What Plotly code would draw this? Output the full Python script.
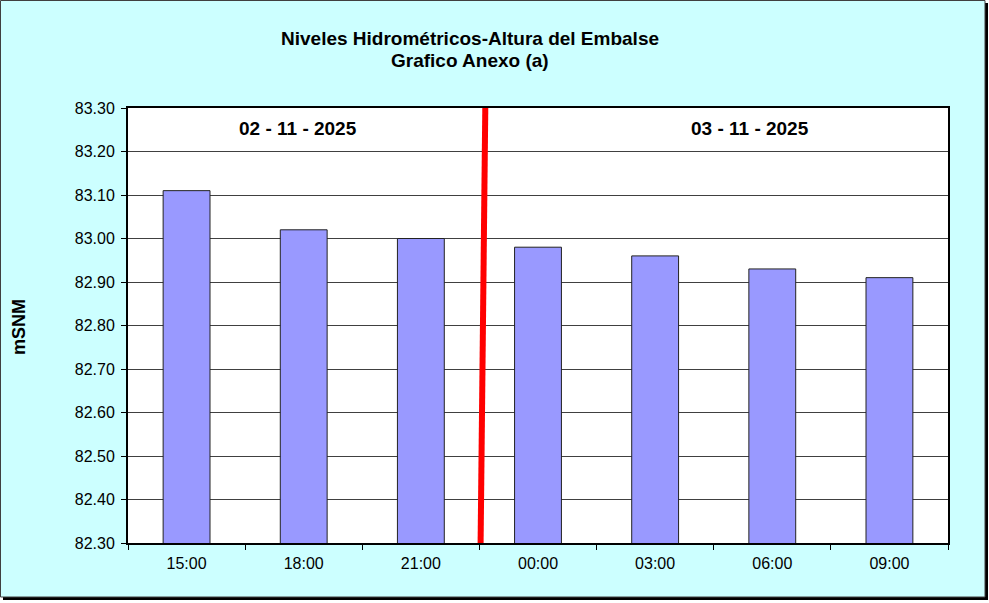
import plotly.graph_objects as go

# data
hours = ["15:00", "18:00", "21:00", "00:00", "03:00", "06:00", "09:00"]
levels = [83.11, 83.02, 83.00, 82.98, 82.96, 82.93, 82.91]
day_labels = ["02 - 11 - 2025", "03 - 11 - 2025"]
day_positions = [0.95, 4.81]
y_ticks = [82.3 + 0.1 * i for i in range(11)]

W, H = 989, 603
L, R, T, B = 128, 948, 108, 543


def px_x(px):
    return (px - L) / (R - L)


def px_y(py):
    return (B - py) / (B - T)


fig = go.Figure()

fig.add_trace(go.Bar(
    x=hours,
    y=levels,
    width=0.4,
    marker=dict(color="#9999FF", line=dict(color="#222222", width=1)),
    hoverinfo="x+y",
))

shapes = [
    # shadow of the outer frame
    dict(type="rect", xref="paper", yref="paper", layer="below",
         x0=px_x(3), x1=px_x(988), y0=px_y(600), y1=px_y(3),
         fillcolor="black", line=dict(width=0)),
    # outer frame
    dict(type="rect", xref="paper", yref="paper", layer="below",
         x0=px_x(0.5), x1=px_x(985), y0=px_y(597), y1=px_y(0.5),
         fillcolor="#CCFFFF", line=dict(color="#404040", width=1)),
    # plot area background
    dict(type="rect", xref="paper", yref="paper", layer="below",
         x0=0, x1=1, y0=0, y1=1, fillcolor="white", line=dict(width=0)),
    # day separator
    dict(type="line", xref="x", yref="y", layer="above",
         x0=2.51, x1=2.55, y0=82.3, y1=83.3,
         line=dict(color="#FF0000", width=6)),
]

annotations = [
    dict(text="<b>Niveles Hidrométricos-Altura del Embalse</b>",
         xref="paper", yref="paper", x=px_x(470), y=px_y(39),
         xanchor="center", yanchor="middle",
         showarrow=False, font=dict(size=19, color="black")),
    dict(text="<b>Grafico Anexo (a)</b>",
         xref="paper", yref="paper", x=px_x(470), y=px_y(61),
         xanchor="center", yanchor="middle",
         showarrow=False, font=dict(size=19, color="black")),
    dict(text="<b>mSNM</b>", textangle=-90,
         xref="paper", yref="paper", x=px_x(19), y=px_y(327),
         xanchor="center", yanchor="middle",
         showarrow=False, font=dict(size=18, color="black")),
]
for lab, pos in zip(day_labels, day_positions):
    annotations.append(dict(text=f"<b>{lab}</b>", xref="x", yref="paper",
                            x=pos, y=px_y(128),
                            xanchor="center", yanchor="middle",
                            showarrow=False,
                            font=dict(size=19, color="black")))

fig.update_layout(
    width=W, height=H,
    margin=dict(l=L, r=W - R, t=T, b=H - B),
    paper_bgcolor="white",
    plot_bgcolor="white",
    font=dict(family="Liberation Sans, Arial, sans-serif", size=16, color="black"),
    showlegend=False,
    shapes=shapes,
    annotations=annotations,
    xaxis=dict(
        type="category",
        tickson="boundaries",
        ticks="outside", ticklen=5, tickcolor="black",
        showline=True, linecolor="black", linewidth=2, mirror=True,
        showgrid=False,
        tickfont=dict(size=16),
        ticklabelstandoff=5,
        range=[-0.5, 6.5],
    ),
    yaxis=dict(
        range=[82.3, 83.3],
        tickvals=y_ticks,
        tickformat=".2f",
        ticks="outside", ticklen=5, tickcolor="black",
        showline=True, linecolor="black", linewidth=2, mirror=True,
        showgrid=True, gridcolor="#404040", gridwidth=1,
        tickfont=dict(size=16),
        ticklabelstandoff=3,
    ),
)

fig.write_html("out.html", config={"displayModeBar": False},
               post_script="document.body.style.margin='0px';")
